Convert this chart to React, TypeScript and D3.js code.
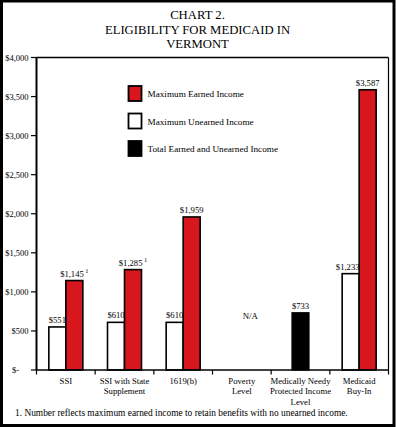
import React from "react";
import * as d3 from "d3";

const titleLines = ["CHART 2.", "ELIGIBILITY FOR MEDICAID IN", "VERMONT"];
const categories = ["SSI", "SSI with State Supplement", "1619(b)", "Poverty Level", "Medically Needy Protected Income Level", "Medicaid Buy-In"];
const categoryLines = [["SSI"], ["SSI with State", "Supplement"], ["1619(b)"], ["Poverty", "Level"], ["Medically Needy", "Protected Income", "Level"], ["Medicaid", "Buy-In"]];
const maxEarned: (number | null)[] = [1145, 1285, 1959, null, null, 3587];
const maxUnearned: (number | null)[] = [551, 610, 610, null, null, 1233];
const totalIncome: (number | null)[] = [null, null, null, null, 733, null];
const earnedFootnote = [true, true, false, false, false, false];
const naCategories = ["Poverty Level"];
const yTicks = [0, 500, 1000, 1500, 2000, 2500, 3000, 3500, 4000];
const legendLabels = ["Maximum Earned Income", "Maximum Unearned Income", "Total Earned and Unearned Income"];
const footnote = "1.  Number reflects maximum earned income to retain benefits with no unearned income.";

const W = 396, H = 427;
const RED = "#d8161d";
const FONT = "Liberation Serif, Times New Roman, serif";

export default function App() {
  const x = d3.scaleBand<string>().domain(categories).range([36.5, 388.5]).padding(0);
  const y = d3.scaleLinear().domain([0, 4000]).range([370, 57.5]);
  const bw = 17;
  const fmt = (v: number) => (v === 0 ? "$-" : d3.format("$,")(v));
  const legendFills = [RED, "#fff", "#000"];
  const cxOf = (c: string) => x(c)! + x.bandwidth() / 2;

  return (
    <svg width={W} height={H} style={{ position: "absolute", left: 0, top: 0, display: "block", background: "#fff", fontFamily: FONT }}>
      <rect x={1.5} y={1} width={392.5} height={424.5} fill="#fff" stroke="#000" strokeWidth={3} />
      {titleLines.map((t, i) => (
        <text key={i} x={197.5} y={19 + i * 14.5} textAnchor="middle" fontSize={12.7} fill="#000">{t}</text>
      ))}
      {/* plot frame */}
      <line x1={36.5} x2={388.5} y1={57.5} y2={57.5} stroke="#000" strokeWidth={1.5} />
      <line x1={388.5} x2={388.5} y1={57.5} y2={370} stroke="#000" strokeWidth={1.2} />
      {/* y axis */}
      {yTicks.map((t) => (
        <g key={t}>
          <line x1={31} x2={36.5} y1={y(t)} y2={y(t)} stroke="#000" strokeWidth={1.2} />
          {t === 0 ? (
            <text x={12} y={y(t) + 3} fontSize={8.5} textAnchor="start">{fmt(t)}</text>
          ) : (
            <text x={28.5} y={y(t) + 3} fontSize={8.5} textAnchor="end">{fmt(t)}</text>
          )}
        </g>
      ))}
      {/* bars */}
      {categories.map((c, i) => {
        const cx = cxOf(c);
        const u = maxUnearned[i], e = maxEarned[i], t = totalIncome[i];
        return (
          <g key={c}>
            {u != null && <rect x={cx - bw} y={y(u)} width={bw} height={y(0) - y(u)} fill="#fff" stroke="#000" strokeWidth={1.6} />}
            {e != null && <rect x={cx} y={y(e)} width={bw} height={y(0) - y(e)} fill={RED} stroke="#000" strokeWidth={1.6} />}
            {t != null && <rect x={cx - bw / 2} y={y(t)} width={bw} height={y(0) - y(t)} fill="#000" stroke="#000" strokeWidth={1.2} />}
          </g>
        );
      })}
      {/* labels */}
      {categories.map((c, i) => {
        const cx = cxOf(c);
        const u = maxUnearned[i], e = maxEarned[i], t = totalIncome[i];
        return (
          <g key={c}>
            {u != null && <text x={cx - bw / 2 - (u >= 1000 ? 3 : 0)} y={y(u) - 4} fontSize={8.6} textAnchor="middle">{fmt(u)}</text>}
            {e != null && (
              <text x={cx + bw / 2} y={y(e) - 4} fontSize={8.6} textAnchor="middle">
                {fmt(e)}
                {earnedFootnote[i] && <tspan fontSize={6.5} dx={1.5} dy={-4}>1</tspan>}
              </text>
            )}
            {t != null && <text x={cx} y={y(t) - 4} fontSize={8.6} textAnchor="middle">{fmt(t)}</text>}
            {naCategories.includes(c) && <text x={cx + bw / 2} y={319} fontSize={8.8} textAnchor="middle">N/A</text>}
            {categoryLines[i].map((l, j) => (
              <text key={j} x={cx} y={383.5 + j * 10.5} fontSize={8.7} textAnchor="middle">{l}</text>
            ))}
          </g>
        );
      })}
      {/* x axis */}
      <line x1={36.5} x2={388.5} y1={370} y2={370} stroke="#000" strokeWidth={1.6} />
      {[...categories.map((c) => x(c)!), 388.5].map((v, i) => (
        <line key={i} x1={v} x2={v} y1={370} y2={374.5} stroke="#000" strokeWidth={1.2} />
      ))}
      <line x1={36.5} x2={36.5} y1={57.5} y2={370} stroke="#000" strokeWidth={2} />
      {/* legend */}
      {legendLabels.map((l, i) => (
        <g key={l}>
          <rect x={128.5} y={86 + i * 27.5} width={13} height={15} fill={legendFills[i]} stroke="#000" strokeWidth={1.8} />
          <text x={147.5} y={97 + i * 27.5} fontSize={9.2}>{l}</text>
        </g>
      ))}
      <text x={15} y={416} fontSize={9.4}>{footnote}</text>
    </svg>
  );
}
